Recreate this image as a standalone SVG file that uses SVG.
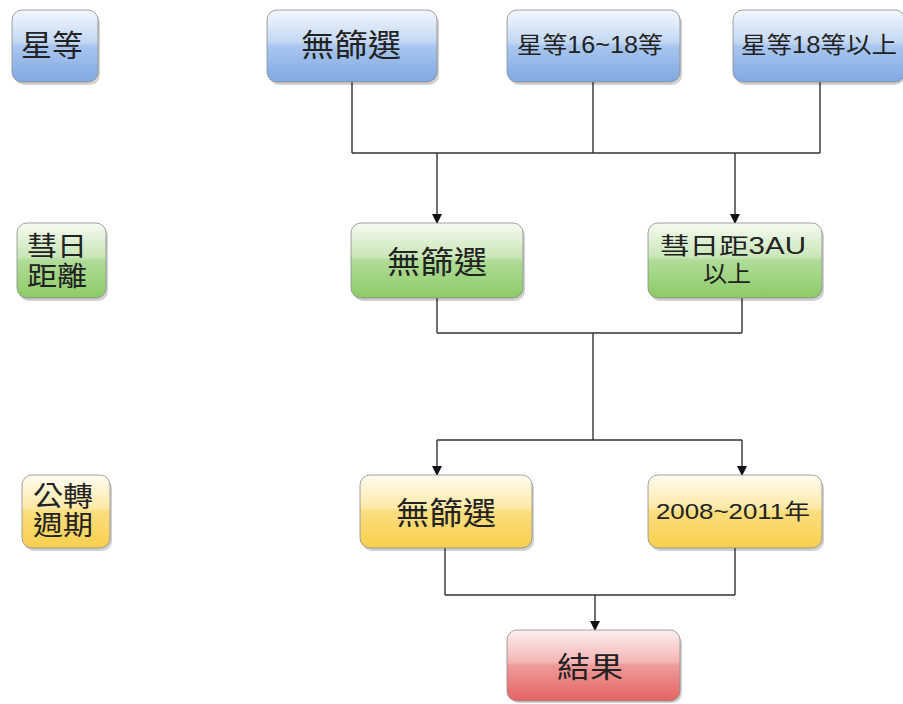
<svg xmlns="http://www.w3.org/2000/svg" width="903" height="704" viewBox="0 0 903 704">
<style>
.box{stroke:#8a8a8a;stroke-width:0.8}
.sh{fill:#000;opacity:0.18}
.t{font-family:"Liberation Sans","Noto Sans CJK TC",sans-serif;fill:#222;text-anchor:middle}
.c{fill:none;stroke:#333;stroke-width:1.4}
.ca{fill:none;stroke:#333;stroke-width:1.4;marker-end:url(#ah)}
</style>
<defs>
<linearGradient id="gb" x1="0" y1="0" x2="0" y2="1">
<stop offset="0" stop-color="#f4f8fe"/><stop offset="0.45" stop-color="#c3d7f3"/><stop offset="0.5" stop-color="#a9c6ee"/><stop offset="1" stop-color="#7fa8e2"/></linearGradient>
<linearGradient id="gg" x1="0" y1="0" x2="0" y2="1">
<stop offset="0" stop-color="#f6fbf2"/><stop offset="0.45" stop-color="#c9e6b8"/><stop offset="0.5" stop-color="#b0dc98"/><stop offset="1" stop-color="#8ccb66"/></linearGradient>
<linearGradient id="gy" x1="0" y1="0" x2="0" y2="1">
<stop offset="0" stop-color="#fffdf3"/><stop offset="0.45" stop-color="#fde9a6"/><stop offset="0.5" stop-color="#fbde80"/><stop offset="1" stop-color="#f8cf4e"/></linearGradient>
<linearGradient id="gr" x1="0" y1="0" x2="0" y2="1">
<stop offset="0" stop-color="#fdf0f0"/><stop offset="0.45" stop-color="#f5b5b5"/><stop offset="0.5" stop-color="#ef9a9a"/><stop offset="1" stop-color="#e56363"/></linearGradient>
<marker id="ah" markerWidth="10" markerHeight="10" refX="9" refY="5" orient="auto" markerUnits="userSpaceOnUse">
<path d="M0,0 L10,5 L0,10 z" fill="#111"/></marker>
</defs>

<g id="connectors">
<path class="c" d="M352,82 V153 M593,82 V153 M820,82 V153 M352,153 H820"/>
<path class="ca" d="M437,153 V223"/>
<path class="ca" d="M735,153 V223"/>
<path class="c" d="M437,298 V333 M742,298 V333 M437,333 H742 M593,333 V440 M437,440 H742"/>
<path class="ca" d="M437,440 V475"/>
<path class="ca" d="M742,440 V475"/>
<path class="c" d="M445,548 V595 M735,548 V595 M445,595 H735"/>
<path class="ca" d="M595,595 V630"/>
</g>

<g id="n-star-label">
<rect class="sh" x="14" y="13" width="86" height="72" rx="10"/>
<rect class="box" x="12" y="10" width="86" height="72" rx="10" fill="url(#gb)"/>
<text class="t" x="52" y="56" font-size="30" textLength="62" lengthAdjust="spacingAndGlyphs">星等</text>
</g>
<g id="n-star-none">
<rect class="sh" x="269" y="13" width="170" height="72" rx="10"/>
<rect class="box" x="267" y="10" width="170" height="72" rx="10" fill="url(#gb)"/>
<text class="t" x="351" y="56" font-size="31" textLength="100" lengthAdjust="spacingAndGlyphs">無篩選</text>
</g>
<g id="n-star-16-18">
<rect class="sh" x="509" y="13" width="173" height="72" rx="10"/>
<rect class="box" x="507" y="10" width="173" height="72" rx="10" fill="url(#gb)"/>
<text class="t" x="590" y="53" font-size="23" textLength="146" lengthAdjust="spacingAndGlyphs">星等16~18等</text>
</g>
<g id="n-star-18up">
<rect class="sh" x="735" y="13" width="170" height="72" rx="10"/>
<rect class="box" x="733" y="10" width="172" height="72" rx="10" fill="url(#gb)"/>
<text class="t" x="819" y="53" font-size="23" textLength="156" lengthAdjust="spacingAndGlyphs">星等18等以上</text>
</g>

<g id="n-dist-label">
<rect class="sh" x="19" y="226" width="89" height="75" rx="10"/>
<rect class="box" x="17" y="223" width="89" height="75" rx="10" fill="url(#gg)"/>
<text class="t" x="57" y="256" font-size="27" textLength="60" lengthAdjust="spacingAndGlyphs">彗日</text>
<text class="t" x="57" y="286" font-size="27" textLength="60" lengthAdjust="spacingAndGlyphs">距離</text>
</g>
<g id="n-dist-none">
<rect class="sh" x="353" y="226" width="172" height="75" rx="10"/>
<rect class="box" x="351" y="223" width="172" height="75" rx="10" fill="url(#gg)"/>
<text class="t" x="437" y="273" font-size="31" textLength="100" lengthAdjust="spacingAndGlyphs">無篩選</text>
</g>
<g id="n-dist-3au">
<rect class="sh" x="650" y="226" width="174" height="75" rx="10"/>
<rect class="box" x="648" y="223" width="174" height="75" rx="10" fill="url(#gg)"/>
<text class="t" x="733" y="254" font-size="23" textLength="146" lengthAdjust="spacingAndGlyphs">彗日距3AU</text>
<text class="t" x="727" y="282" font-size="23" textLength="48" lengthAdjust="spacingAndGlyphs">以上</text>
</g>

<g id="n-period-label">
<rect class="sh" x="24" y="478" width="88" height="73" rx="10"/>
<rect class="box" x="22" y="475" width="88" height="73" rx="10" fill="url(#gy)"/>
<text class="t" x="63" y="506" font-size="27" textLength="60" lengthAdjust="spacingAndGlyphs">公轉</text>
<text class="t" x="63" y="535" font-size="27" textLength="60" lengthAdjust="spacingAndGlyphs">週期</text>
</g>
<g id="n-period-none">
<rect class="sh" x="362" y="478" width="172" height="73" rx="10"/>
<rect class="box" x="360" y="475" width="172" height="73" rx="10" fill="url(#gy)"/>
<text class="t" x="446" y="524" font-size="31" textLength="100" lengthAdjust="spacingAndGlyphs">無篩選</text>
</g>
<g id="n-period-2008">
<rect class="sh" x="650" y="478" width="174" height="73" rx="10"/>
<rect class="box" x="648" y="475" width="174" height="73" rx="10" fill="url(#gy)"/>
<text class="t" x="733" y="519" font-size="22" textLength="154" lengthAdjust="spacingAndGlyphs">2008~2011年</text>
</g>

<g id="n-result">
<rect class="sh" x="509" y="633" width="173" height="70" rx="10"/>
<rect class="box" x="507" y="630" width="173" height="71" rx="10" fill="url(#gr)"/>
<text class="t" x="590" y="678" font-size="29" textLength="66" lengthAdjust="spacingAndGlyphs">結果</text>
</g>
</svg>
